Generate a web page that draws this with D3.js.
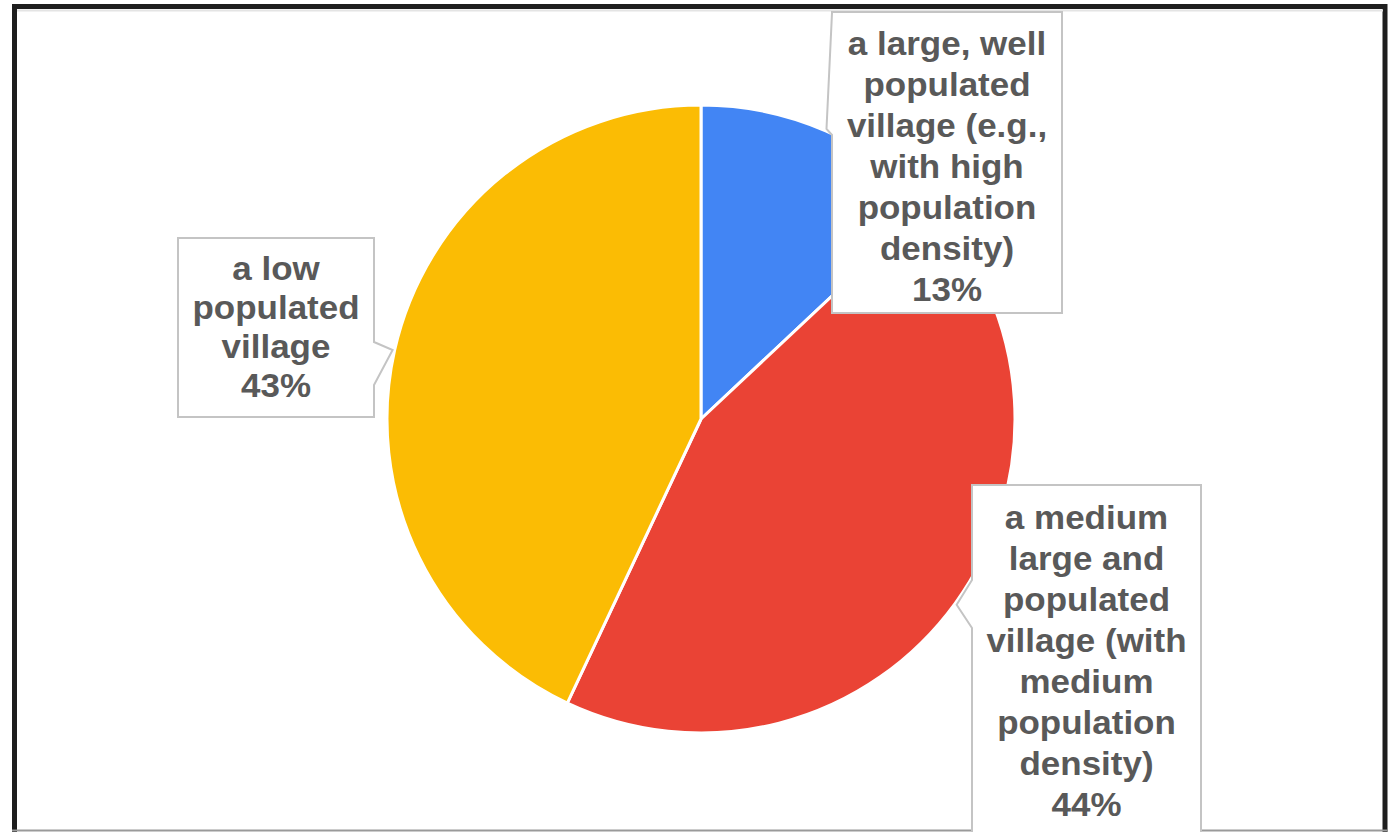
<!DOCTYPE html>
<html>
<head>
<meta charset="utf-8">
<script src="https://cdn.jsdelivr.net/npm/d3@7"></script>
<style>
  html, body { margin: 0; padding: 0; background: #fff; }
  svg { display: block; }
</style>
</head>
<body>
<svg id="chart" width="1398" height="833"></svg>
<script>
// Village types and their shares (percent)
const categories = [
  "a large, well populated village (e.g., with high population density)",
  "a medium large and populated village (with medium population density)",
  "a low populated village"
];
const values = [13, 44, 43];
const colors = ["#4285F4", "#EA4335", "#FBBC04"];

// Wrapped label lines for each slice (percent line is appended from values)
const labelLines = [
  ["a large, well", "populated", "village (e.g.,", "with high", "population", "density)"],
  ["a medium", "large and", "populated", "village (with", "medium", "population", "density)"],
  ["a low", "populated", "village"]
];

const svg = d3.select("#chart");
const W = 1398, H = 833;

// Outer frame
svg.append("path")
  .attr("d", `M14.5,832 L14.5,6.5 L1385,6.5 L1385,832`)
  .attr("fill", "none")
  .attr("stroke", "#1e1e1e")
  .attr("stroke-width", 5);
svg.append("line")
  .attr("x1", 17).attr("x2", 1383).attr("y1", 10.5).attr("y2", 10.5)
  .attr("stroke", "#e4e4e4").attr("stroke-width", 2);
svg.append("line")
  .attr("x1", 12).attr("x2", 1387).attr("y1", 830.5).attr("y2", 830.5)
  .attr("stroke", "#9a9a9a").attr("stroke-width", 2);

// Pie
const cx = 701, cy = 419, R = 314;
const pie = d3.pie().sort(null).value(d => d)(values);
const arc = d3.arc().innerRadius(0).outerRadius(R);

const g = svg.append("g").attr("transform", `translate(${cx},${cy})`);
g.selectAll("path.slice")
  .data(pie)
  .join("path")
  .attr("class", "slice")
  .attr("d", arc)
  .attr("fill", (d, i) => colors[i])
  .attr("stroke", "#fff")
  .attr("stroke-width", 3)
  .attr("stroke-linejoin", "round");

// Callout boxes: rectangle + pointer toward the outer midpoint of each slice
const boxes = [
  { x: 832, y: 12, w: 230, h: 301, side: "left", base: [13, 135], first: 43, lineH: 41 },
  { x: 972, y: 485, w: 229, h: 360, side: "left", base: [580, 628], first: 517, lineH: 41 },
  { x: 178, y: 238, w: 196, h: 179, side: "right", base: [342, 385], first: 268, lineH: 39 }
];

const fontSize = 33;

pie.forEach((d, i) => {
  const b = boxes[i];
  const mid = (d.startAngle + d.endAngle) / 2;
  const tipR = R + 2;
  const tx = cx + tipR * Math.sin(mid);
  const ty = cy - tipR * Math.cos(mid);

  let pts;
  const x0 = b.x, x1 = b.x + b.w, y0 = b.y, y1 = b.y + b.h;
  if (b.side === "left") {
    pts = [[x0, y0], [x1, y0], [x1, y1], [x0, y1], [x0, b.base[1]], [tx, ty], [x0, b.base[0]]];
  } else {
    pts = [[x0, y0], [x1, y0], [x1, b.base[0]], [tx, ty], [x1, b.base[1]], [x1, y1], [x0, y1]];
  }
  svg.append("path")
    .attr("d", "M" + pts.map(p => p.join(",")).join("L") + "Z")
    .attr("fill", "#fff")
    .attr("stroke", "#c4c4c4")
    .attr("stroke-width", 2);

  const lines = labelLines[i].concat([`${values[i]}%`]);
  const midX = (x0 + x1) / 2;
  const t = svg.append("text")
    .attr("transform", `translate(${midX},0) scale(1.06,1)`)
    .attr("font-family", "'Liberation Sans', Arial, sans-serif")
    .attr("font-weight", "bold")
    .attr("font-size", fontSize)
    .attr("fill", "#595959")
    .attr("text-anchor", "middle");
  lines.forEach((ln, k) => {
    t.append("tspan")
      .attr("x", 0)
      .attr("y", b.first + k * b.lineH)
      .attr("dy", "0.35em")
      .text(ln);
  });
});

// Keep the bottom row clean below the frame
svg.append("rect").attr("x", 0).attr("y", 832).attr("width", W).attr("height", 1).attr("fill", "#fff");
</script>
</body>
</html>
